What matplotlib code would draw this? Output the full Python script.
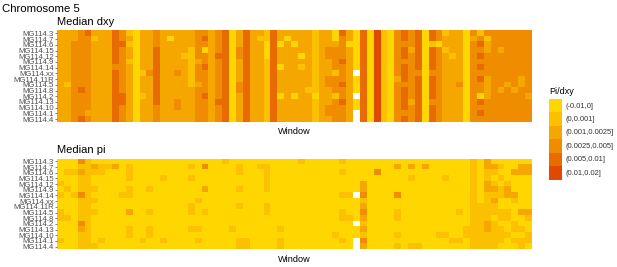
import numpy as np
import matplotlib
matplotlib.use("Agg")
import matplotlib.pyplot as plt
from matplotlib.colors import ListedColormap, BoundaryNorm

plt.rcParams['font.family'] = ['Liberation Sans', 'DejaVu Sans']

samples = ["MG114.3", "MG114.7", "MG114.6", "MG114.15", "MG114.12", "MG114.9",
           "MG114.14", "MG114.xx", "MG114.11R", "MG114.5", "MG114.8", "MG114.2",
           "MG114.13", "MG114.10", "MG114.1", "MG114.4"]

bin_labels = ["(-0.01,0]", "(0,0.001]", "(0.001,0.0025]", "(0.0025,0.005]",
              "(0.005,0.01]", "(0.01,0.02]"]
bin_colors = ["#FFD600", "#FBC000", "#F5A700", "#EF8C00", "#E76B00", "#DF4A00"]

# one string per window (top row first), digit = bin index, '.' = missing
dxy_cols = [
    "2222222222222222", "2222222221222222", "2233333333333333", "3333333333433334",
    "4333333333333323", "2122222222222222", "2222222222222222", "2222222222222222",
    "4444443444444444", "3343333333344333", "1212212222222222", "0000000000000000",
    "2222222122212222", "2222222322222222", "3334444444444333", "2222222222222222",
    "2022222222222222", "2222222322223322", "2222122222222222", "2221111111222222",
    "3333323332333333", "3430334333343333", "2222222222222222", "3333433333334333",
    "4444444444444444", "0000000000000000", "2223322223322222", "4444444444444444",
    "2222222222222222", "2122222222222222", "1100011111111111", "4444444444444444",
    "2202220222202222", "2022222222222222", "2202222222202222", "2222021222222222",
    "2222222222122222", "1111111111101111", "2222222222222222", "2223322233222332",
    "0023333133313333", "4333343334334333", "2202222222222222", "0000000.000.00..",
    "4444444444444444", "0000000000000000", "5555555555555555", "1111111111111111",
    "0000000000000000", "3333333323333333", "4434434443444434", "3332333333332333",
    "4444444344444444", "0000000000000000", "4414444344443444", "3303333333333333",
    "1221222222222222", "2222122222222222", "2222222223222222", "0000000000000000",
    "3233333333333333", "1343434343304343", "3122333322223333", "3333333333333333",
    "3332333333233333", "3333333332333333", "3333333333233333", "3333333322333333",
    "3333333333323333",
]

pi_cols = [
    "0000101001100010", "0010010000100000", "0010001000000000", "3121113111132111",
    "1111111111111111", "0210010101000001", "0110000000000010", "0100000000000000",
    "0200000000000000", "0000001000000000", "0111011002001100", "0000000000000000",
    "0000000000000010", "0000010001001100", "0000000000000000", "0001000000000010",
    "0000000000000000", "0000000000000000", "0000000000000000", "0101000011001000",
    "0000000100001010", "0300020001000000", "0000000000000000", "0000000000000000",
    "1000000000000000", "0000000000001000", "0110010010000011", "0000000000000011",
    "0000000000000000", "0100000000000000", "0111110011000000", "0000000000000000",
    "0000000000001011", "0000000000000000", "0000000000000000", "1000000000000000",
    "0000000000000000", "0000000000000000", "0000000000000000", "0000000000000000",
    "0000000000000100", "1010001001100010", "0000001000100000", "000000.0000.00..",
    "0000223123212132", "0000000000000000", "0030000000000000", "0000000000000000",
    "0000000000000000", "0200003001100101", "0000000000000000", "0201000000000001",
    "0000000000000001", "0200000000000000", "0000000000000000", "0000000000000100",
    "0001000000000100", "0000000000000010", "0000000001000010", "0000000000001100",
    "1111111111111111", "0000000011111111", "2211221111122111", "0210121211011111",
    "0101011001101110", "0000122001100100", "0020002100011010", "0220000002001011",
    "0220000002100110",
]


def to_matrix(cols):
    m = np.full((len(samples), len(cols)), np.nan)
    for j, s in enumerate(cols):
        for i, ch in enumerate(s):
            if ch != '.':
                m[i, j] = int(ch)
    return m


cmap = ListedColormap(bin_colors)
cmap.set_bad('white')
norm = BoundaryNorm(np.arange(-0.5, len(bin_colors)), len(bin_colors))

W, H = 617, 267
fig = plt.figure(figsize=(W / 100, H / 100), dpi=100)

def fx(px):
    return px / W

def fy(py):
    return 1 - py / H

left, right = 57.3, 532
panels = [("Median dxy", dxy_cols, 30.5, 122, 25, 131),
          ("Median pi", pi_cols, 158.5, 249.5, 153, 259)]

for title, cols, top, bot, ty, wy in panels:
    ax = fig.add_axes([fx(left), fy(bot), fx(right - left), (bot - top) / H])
    ax.imshow(to_matrix(cols), cmap=cmap, norm=norm, aspect='auto',
              interpolation='nearest')
    ax.set_xticks([])
    ax.set_yticks(range(len(samples)))
    ax.set_yticklabels(samples, fontsize=5.6, color='#4D4D4D')
    ax.tick_params(axis='y', length=1.6, width=0.5, color='#4D4D4D', pad=0.8)
    for sp in ax.spines.values():
        sp.set_visible(False)
    fig.text(fx(left), fy(ty), title, fontsize=8, va='baseline', ha='left')
    fig.text(fx((left + right) / 2), fy(wy), "Window", fontsize=6.6,
             va='center', ha='center')

fig.text(fx(1.5), fy(9.5), "Chromosome 5", fontsize=8.2, va='center', ha='left')

# legend
key_top, key_bot = 99.3, 180
lax = fig.add_axes([fx(549.3), fy(key_bot), fx(13), (key_bot - key_top) / H])
lax.imshow(np.arange(len(bin_colors)).reshape(-1, 1), cmap=cmap, norm=norm,
           aspect='auto', interpolation='nearest')
lax.axis('off')
fig.text(fx(549.3), fy(91.7), "Pi/dxy", fontsize=6.5, va='center', ha='left')
kh = (key_bot - key_top) / len(bin_labels)
for i, lab in enumerate(bin_labels):
    fig.text(fx(566), fy(key_top + kh * (i + 0.5)), lab, fontsize=5.4,
             va='center', ha='left', color='#333333')

fig.savefig("out.png", dpi=100)
